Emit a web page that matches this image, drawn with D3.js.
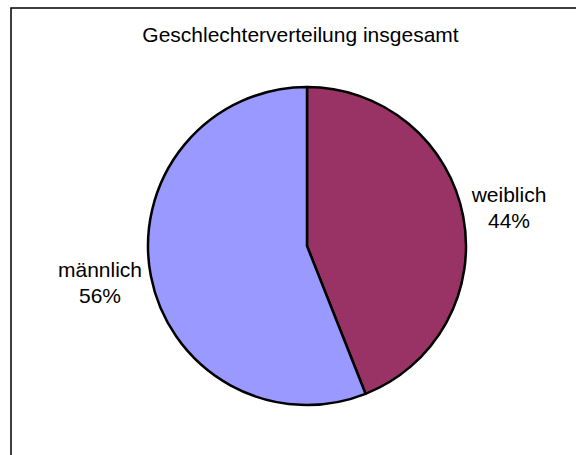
<!DOCTYPE html>
<html>
<head>
<meta charset="utf-8">
<script src="https://cdn.jsdelivr.net/npm/d3@7"></script>
<style>
  body { margin: 0; background: #fff; }
  text { font-family: "Liberation Sans", Arial, sans-serif; fill: #000; }
</style>
</head>
<body>
<div id="chart"></div>
<script>
// data
const categories = ["weiblich", "männlich"];
const values = [44, 56];
const colors = ["#993366", "#9999FF"];
const title = "Geschlechterverteilung insgesamt";

const width = 576, height = 455;
const cx = 307, cy = 246, radius = 159;

const svg = d3.select("#chart").append("svg")
    .attr("width", width)
    .attr("height", height);

// chart frame (runs off the right and bottom edge)
svg.append("rect")
    .attr("x", 11).attr("y", 8)
    .attr("width", width + 20).attr("height", height + 20)
    .attr("fill", "#fff")
    .attr("stroke", "#000")
    .attr("stroke-width", 1.5);

svg.append("text")
    .attr("x", 300.5).attr("y", 42)
    .attr("text-anchor", "middle")
    .style("font-size", "21px")
    .text(title);

const data = categories.map((c, i) => ({ name: c, value: values[i], color: colors[i] }));

const pie = d3.pie().value(d => d.value).sort(null);
const arc = d3.arc().innerRadius(0).outerRadius(radius);

const g = svg.append("g").attr("transform", `translate(${cx},${cy})`);

g.selectAll("path")
    .data(pie(data))
    .join("path")
    .attr("d", arc)
    .attr("fill", d => d.data.color)
    .attr("stroke", "#000")
    .attr("stroke-width", 2.5)
    .attr("stroke-linejoin", "round");

// labels outside the pie
const total = d3.sum(values);
const labelPos = { "weiblich": [509, 202], "männlich": [100, 277] };

const labels = svg.selectAll("g.label")
    .data(pie(data))
    .join("g")
    .attr("class", "label")
    .attr("transform", d => `translate(${labelPos[d.data.name][0]},${labelPos[d.data.name][1]})`);

labels.append("text")
    .attr("text-anchor", "middle")
    .style("font-size", "21px")
    .text(d => d.data.name);

labels.append("text")
    .attr("text-anchor", "middle")
    .attr("y", 26)
    .style("font-size", "21px")
    .text(d => Math.round(d.data.value / total * 100) + "%");
</script>
</body>
</html>
